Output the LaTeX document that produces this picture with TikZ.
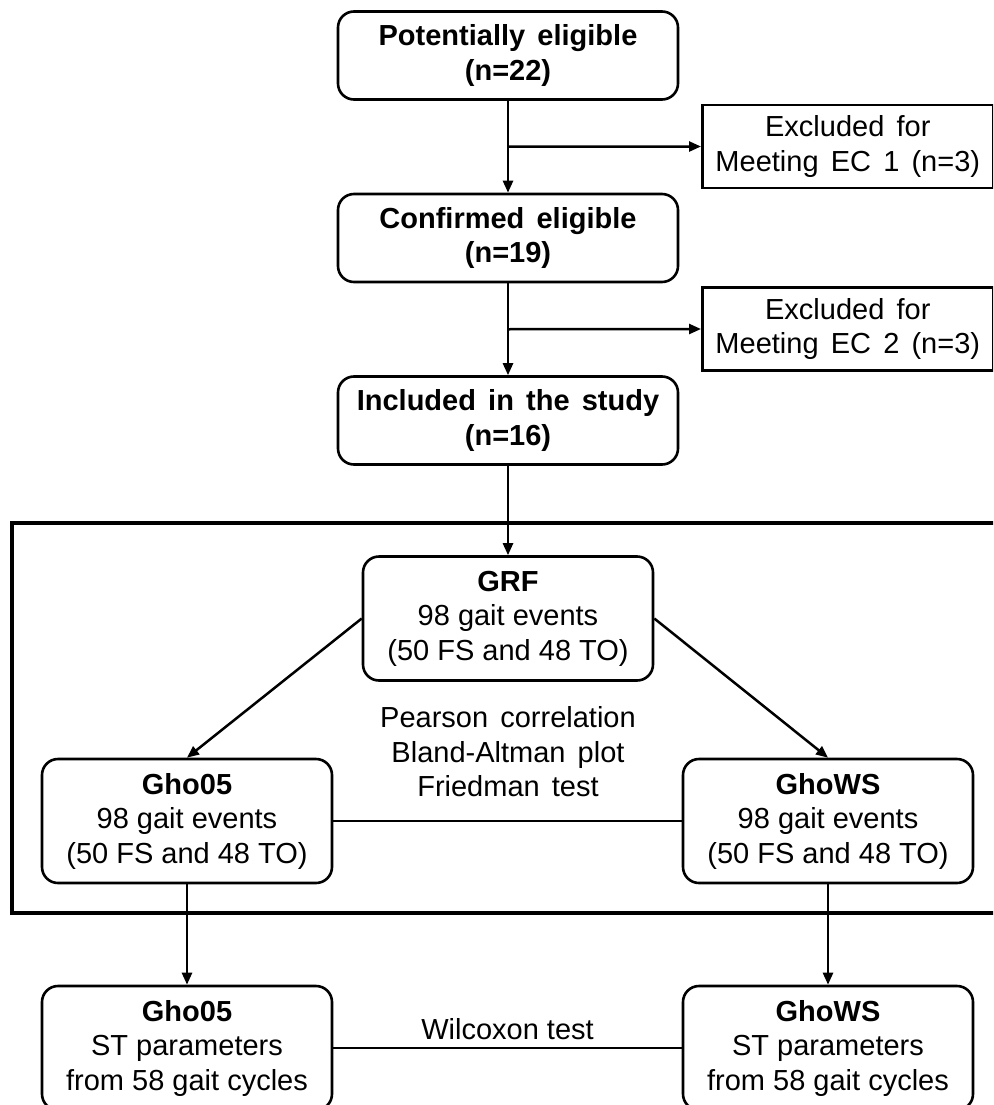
\documentclass[tikz,border=0pt]{standalone}
\usepackage{fontspec}
\setmainfont{Liberation Sans}
\usetikzlibrary{arrows.meta,calc}
\newcommand{\widewords}{\spaceskip=0.42em plus 0.1em\relax}
\begin{document}
\begin{tikzpicture}[x=1pt,y=-1pt,
  txt/.style={font=\fontsize{29}{34.5}\selectfont, align=center},
  wide/.style={font=\fontsize{29}{34.5}\selectfont\widewords},
  box/.style={txt, draw, line width=2.6pt, rounded corners=16pt, inner sep=0pt},
  exbox/.style={txt, wide, draw, line width=2.6pt, inner sep=0pt,
    minimum width=291pt, minimum height=83pt},
  mainbox/.style={box, wide, minimum width=340pt, minimum height=88pt},
  gaitbox/.style={box, minimum width=290pt, minimum height=124pt},
  conn/.style={line width=2.5pt, -{Triangle[length=12pt,width=10pt]}},
  link/.style={line width=2.5pt}]
\useasboundingbox (0,0) rectangle (993,1105);
\clip (0,0) rectangle (993,1105);

% enrolment column
\node[mainbox] (pot)  at (508,55.5) {\textbf{Potentially eligible}\\\textbf{(n=22)}};
\node[mainbox] (conf) at (508,238)  {\textbf{Confirmed eligible}\\\textbf{(n=19)}};
\node[mainbox] (incl) at (508,420.5){\textbf{Included in the study}\\\textbf{(n=16)}};

\coordinate (b1) at ($(pot.south)!0.5!(conf.north)$);
\coordinate (b2) at ($(conf.south)!0.5!(incl.north)$);
\node[exbox, anchor=west] (ex1) at (701,146.5) {Excluded for\\Meeting EC 1 (n=3)};
\node[exbox, anchor=west] (ex2) at (701,329)   {Excluded for\\Meeting EC 2 (n=3)};

\draw[conn] (pot.south) -- (conf.north);
\draw[conn] (conf.south) -- (incl.north);
\draw[conn] (b1) -- (ex1.west);
\draw[conn] (b2) -- (ex2.west);

% gait event comparison frame
\draw[line width=4.5pt] (12,523) rectangle (1020,913);

\node[gaitbox] (grf) at (508,618.5) {\textbf{GRF}\\98 gait events\\(50 FS and 48 TO)};
\node[gaitbox] (g05) at (187,821)   {\textbf{Gho05}\\98 gait events\\(50 FS and 48 TO)};
\node[gaitbox] (gws) at (828,821)   {\textbf{GhoWS}\\98 gait events\\(50 FS and 48 TO)};
\node[txt, wide] (stats) at (508,752) {Pearson correlation\\Bland-Altman plot\\Friedman test};

\draw[conn] (incl.south) -- (grf.north);
\draw[conn] (grf.west) -- (g05.north);
\draw[conn] (grf.east) -- (gws.north);
\draw[link] (g05.east) -- (gws.west);

% spatiotemporal parameters
\node[gaitbox] (b05) at (187,1048) {\textbf{Gho05}\\ST parameters\\from 58 gait cycles};
\node[gaitbox] (bws) at (828,1048) {\textbf{GhoWS}\\ST parameters\\from 58 gait cycles};

\draw[conn] (g05.south) -- (b05.north);
\draw[conn] (gws.south) -- (bws.north);
\draw[link] (b05.east) -- node[txt, above=4pt] {Wilcoxon test} (bws.west);
\end{tikzpicture}
\end{document}
